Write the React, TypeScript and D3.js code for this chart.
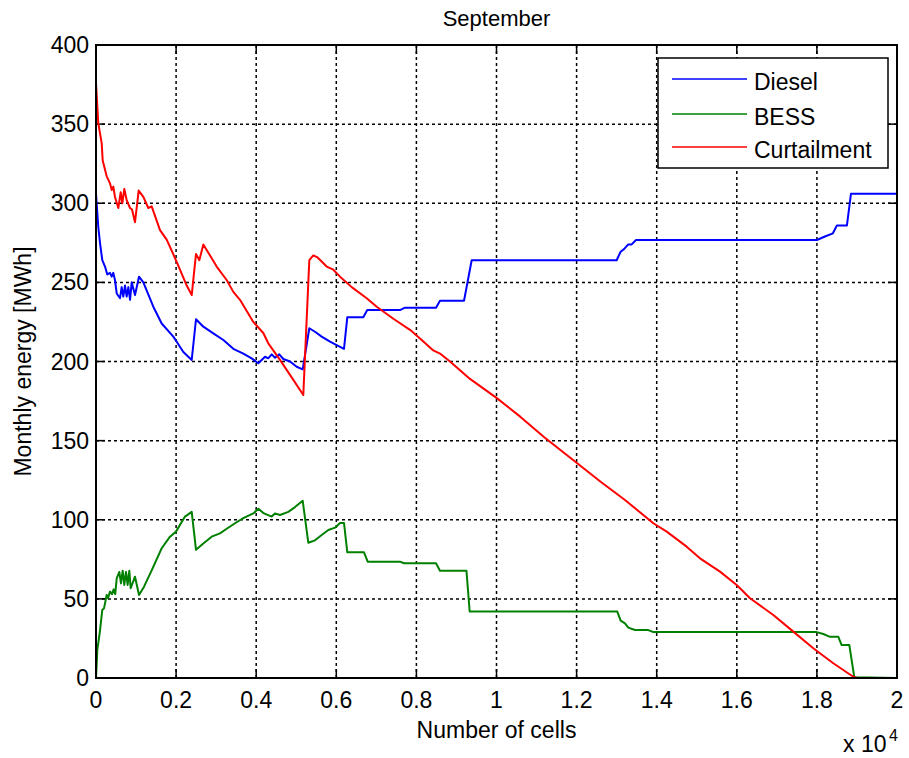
import * as d3 from 'd3';

// cells on x (plotted as x 10^4), MWh on y
const xTicks = [0, 2000, 4000, 6000, 8000, 10000, 12000, 14000, 16000, 18000, 20000];
const xTickLabels = ['0', '0.2', '0.4', '0.6', '0.8', '1', '1.2', '1.4', '1.6', '1.8', '2'];
const yTicks = [0, 50, 100, 150, 200, 250, 300, 350, 400];
const seriesNames = ['Diesel', 'BESS', 'Curtailment'];
const seriesColors = ['#0000ff', '#008000', '#ff0000'];

const diesel: [number, number][] = [
  [0, 306], [57, 285], [100, 275], [157, 264], [225, 260], [282, 255], [350, 256], [392, 253.6],
  [432, 256], [474, 251.5], [517, 243], [600, 240], [641, 247], [682, 241], [724, 248], [766, 241],
  [808, 247], [850, 239], [891, 250], [974, 242], [1074, 253.6], [1182, 250], [1431, 234.6],
  [1640, 224], [1931, 215.7], [2015, 212.5], [2181, 206], [2390, 201], [2497, 226.7], [2680, 222],
  [2929, 217.8], [3180, 213.6], [3429, 208], [3678, 205], [3887, 202], [4053, 198.9], [4220, 203],
  [4300, 202], [4387, 204.5], [4470, 202.4], [4577, 204.5], [4677, 201.6], [4844, 200], [5011, 196.7],
  [5161, 195], [5326, 221], [5468, 218.8], [5635, 215.7], [5843, 212.5], [6010, 210.4], [6192, 208],
  [6275, 228], [6674, 228], [6774, 232.5], [7590, 232.5], [7715, 234], [8490, 234], [8589, 238.4],
  [9189, 238.4], [9380, 264], [13000, 264], [13100, 269.4], [13183, 271], [13291, 274], [13375, 274],
  [13483, 276.8], [18000, 276.8], [18200, 279], [18400, 281], [18500, 286], [18750, 286], [18850, 306],
  [20000, 306],
];

const bess: [number, number][] = [
  [0, 0], [33, 17.7], [100, 30], [157, 43], [200, 44], [267, 52.5], [300, 50.4], [350, 54.6],
  [400, 53], [440, 56], [480, 53], [517, 63], [582, 67], [624, 59.8], [666, 67.8], [707, 58.8],
  [749, 67], [790, 58.8], [832, 67.8], [866, 56.7], [974, 64], [1074, 52.5], [1199, 57.7], [1390, 68],
  [1640, 82], [1848, 89.3], [1997, 92.5], [2222, 102], [2390, 105], [2497, 81], [2680, 85],
  [2888, 89.3], [3096, 91.4], [3263, 94.3], [3471, 97.8], [3678, 101], [3928, 104], [4053, 107],
  [4195, 104], [4387, 102], [4469, 104], [4594, 103], [4802, 105], [4969, 108], [5161, 112],
  [5301, 85.5], [5468, 87], [5635, 90.4], [5801, 93.5], [5968, 95], [6093, 98], [6192, 98],
  [6275, 79.4], [6692, 79.4], [6784, 73.5], [7590, 73.5], [7690, 72.5], [8490, 72.5], [8589, 67.8],
  [9250, 67.8], [9330, 42], [13016, 42], [13100, 36.2], [13208, 34.5], [13291, 31.8], [13458, 30.3],
  [13791, 30.3], [13916, 29], [17995, 29], [18160, 27.8], [18327, 26], [18535, 26], [18618, 20.8],
  [18810, 20.8], [18934, 0.4], [20000, 0],
];

const curtailment: [number, number][] = [
  [0, 376], [57, 350.5], [142, 338], [167, 327], [267, 317], [350, 312.6], [392, 308.4], [432, 310.5],
  [474, 304], [557, 297], [617, 307], [657, 300], [707, 309], [766, 302], [849, 297], [900, 296],
  [974, 288], [1066, 308], [1182, 304], [1306, 297], [1390, 298], [1598, 283], [1765, 277],
  [2015, 263], [2265, 248], [2390, 242], [2497, 268], [2580, 264], [2680, 274], [3013, 260],
  [3262, 251.5], [3429, 244], [3595, 239], [3928, 225], [4177, 218], [4302, 211.5], [4594, 201],
  [4886, 190], [5176, 178.8], [5326, 264], [5426, 267], [5520, 266], [5760, 260], [5926, 258],
  [6093, 253.6], [6385, 247], [6759, 240], [7009, 234.6], [7425, 227], [7840, 220], [8090, 214.6],
  [8422, 207], [8589, 205], [8839, 200], [9338, 189], [10000, 177], [10600, 165], [11200, 152],
  [12000, 136], [12600, 124], [13208, 112.5], [13916, 97.8], [14250, 92.5], [14748, 83], [15081, 75.6],
  [15581, 67.2], [15997, 58.8], [16330, 50.4], [16912, 39.8], [17411, 29.3], [17910, 18.8],
  [18409, 9.3], [18909, 0.8], [19000, 0], [20000, 0],
];

const W = 909;
const H = 758;
const LEFT = 96;
const RIGHT = 897;
const TOP = 45;
const BOTTOM = 678;
const FONT = '"Liberation Sans", Arial, Helvetica, sans-serif';
const TICK = 9;

export default function App() {
  const x = d3.scaleLinear().domain([0, 20000]).range([LEFT, RIGHT]);
  const y = d3.scaleLinear().domain([0, 400]).range([BOTTOM, TOP]);
  const line = d3
    .line<[number, number]>()
    .x((d) => x(d[0]))
    .y((d) => y(d[1]));

  const series = [diesel, bess, curtailment];
  const legendY = [79, 114, 147];

  return (
    <svg
      width={W}
      height={H}
      viewBox={`0 0 ${W} ${H}`}
      style={{ position: 'absolute', left: 0, top: 0, background: '#fff' }}
      fontFamily={FONT}
    >
      <rect x={0} y={0} width={W} height={H} fill="#fff" />
      <defs>
        <clipPath id="plot">
          <rect x={LEFT} y={TOP} width={RIGHT - LEFT} height={BOTTOM - TOP} />
        </clipPath>
      </defs>

      {/* grid */}
      <g stroke="#000" strokeWidth={1.5} strokeDasharray="3,3">
        {xTicks.slice(1, -1).map((t) => (
          <line key={'gx' + t} x1={x(t)} x2={x(t)} y1={TOP} y2={BOTTOM} />
        ))}
        {yTicks.slice(1, -1).map((t) => (
          <line key={'gy' + t} x1={LEFT} x2={RIGHT} y1={y(t)} y2={y(t)} />
        ))}
      </g>

      {/* inward ticks on all sides */}
      <g stroke="#000" strokeWidth={1.5}>
        {xTicks.map((t) => (
          <g key={'tx' + t}>
            <line x1={x(t)} x2={x(t)} y1={BOTTOM} y2={BOTTOM - TICK} />
            <line x1={x(t)} x2={x(t)} y1={TOP} y2={TOP + TICK} />
          </g>
        ))}
        {yTicks.map((t) => (
          <g key={'ty' + t}>
            <line x1={LEFT} x2={LEFT + TICK} y1={y(t)} y2={y(t)} />
            <line x1={RIGHT} x2={RIGHT - TICK} y1={y(t)} y2={y(t)} />
          </g>
        ))}
      </g>

      {/* data */}
      <g clipPath="url(#plot)" fill="none" strokeWidth={2} strokeLinejoin="round">
        {series.map((s, i) => (
          <path key={seriesNames[i]} d={line(s) ?? ''} stroke={seriesColors[i]} />
        ))}
      </g>

      {/* box */}
      <rect x={LEFT} y={TOP} width={RIGHT - LEFT} height={BOTTOM - TOP} fill="none" stroke="#000" strokeWidth={2} />

      {/* tick labels */}
      <g fontSize={23} fill="#000">
        {xTicks.map((t, i) => (
          <text key={'lx' + t} x={x(t)} y={708} textAnchor="middle">
            {xTickLabels[i]}
          </text>
        ))}
        {yTicks.map((t) => (
          <text key={'ly' + t} x={89} y={y(t)} dy="0.35em" textAnchor="end">
            {t}
          </text>
        ))}
      </g>

      {/* titles */}
      <text x={(LEFT + RIGHT) / 2} y={26} textAnchor="middle" fontSize={22}>
        September
      </text>
      <text x={(LEFT + RIGHT) / 2} y={738} textAnchor="middle" fontSize={23}>
        Number of cells
      </text>
      <text
        transform={`translate(31,${(TOP + BOTTOM) / 2}) rotate(-90)`}
        textAnchor="middle"
        fontSize={23}
      >
        Monthly energy [MWh]
      </text>
      <text x={843} y={752} fontSize={23}>
        x 10
      </text>
      <text x={889} y={741} fontSize={16}>
        4
      </text>

      {/* legend */}
      <g>
        <rect x={658} y={58} width={230} height={110} fill="#fff" stroke="#000" strokeWidth={1.5} />
        {seriesNames.map((n, i) => (
          <g key={'lg' + n}>
            <line x1={672} x2={747} y1={legendY[i]} y2={legendY[i]} stroke={seriesColors[i]} strokeWidth={1.5} />
            <text x={754} y={legendY[i] + 11} fontSize={23}>
              {n}
            </text>
          </g>
        ))}
      </g>
    </svg>
  );
}
